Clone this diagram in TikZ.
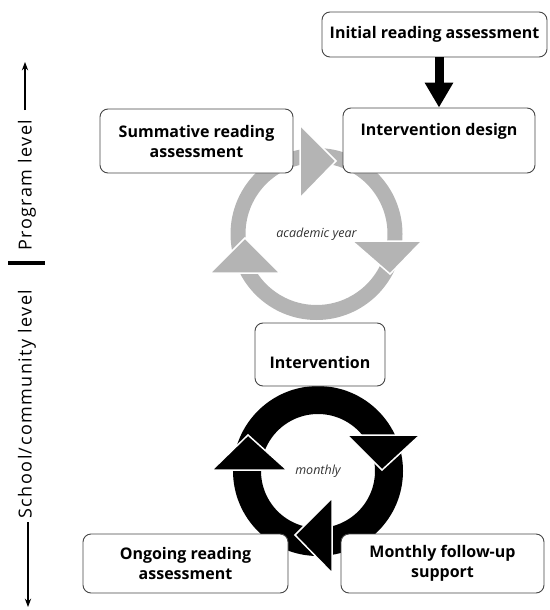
\documentclass[tikz,border=0pt]{standalone}
\usepackage{fontspec}
\setmainfont{Open Sans}
\usetikzlibrary{arrows.meta}
\definecolor{ringgray}{RGB}{180,180,180}
\definecolor{boxline}{RGB}{70,70,70}

\begin{document}
\begin{tikzpicture}[x=1pt, y=-1pt, >=Stealth,
  box/.style={draw=boxline, line width=0.9pt, rounded corners=8pt, fill=white,
    align=center, inner sep=2pt, font=\fontsize{16}{20}\selectfont\bfseries},
  head/.style={draw=white, line width=1.5pt, line join=miter},
  levelname/.style={rotate=90, font=\fontsize{18}{20}\selectfont\addfontfeature{LetterSpace=8}},
  cyclename/.style={font=\fontsize{12.5}{14}\selectfont\itshape, text=black!80}]
  \useasboundingbox (0,0) rectangle (549,610);
  % Centres of the two cycles
  \coordinate (Y) at (316.5,234);
  \coordinate (M) at (318,471);
  % Gray cycle (academic year)
  \draw[ringgray, line width=15pt] (Y) circle (78.5pt);
  \fill[ringgray, head] (300,125) -- (300,198) -- (336,161) -- cycle;
  \fill[ringgray, head] (352,241) -- (422,241) -- (390,274) -- cycle;
  \fill[ringgray, head] (210,273) -- (280,273) -- (245,238) -- cycle;
  \node[cyclename] (year) at (Y) {academic year};
  % Black cycle (monthly)
  \draw[black, line width=28pt] (M) circle (71pt);
  \fill[black, head] (212,470) -- (287,470) -- (248,435) -- cycle;
  \fill[black, head] (347,435) -- (420,435) -- (382,470) -- cycle;
  \fill[black, head] (332,498) -- (332,573) -- (295,535) -- cycle;
  \node[cyclename] (month) at (M) {monthly};
  % Boxes
  \node[box, minimum width=225pt, minimum height=45pt] (init) at (434.5,34.5) {Initial reading assessment};
  \node[box, minimum width=192pt, minimum height=65pt, text depth=22pt] (design) at (439,140.5) {Intervention design};
  \node[box, minimum width=193pt, minimum height=64pt] (summ) at (196.5,141) {Summative reading\\assessment};
  \node[box, minimum width=130pt, minimum height=63pt, text height=28pt] (interv) at (320,354.5) {Intervention};
  \node[box, minimum width=205pt, minimum height=59pt] (ongoing) at (185.5,563.5) {Ongoing reading\\assessment};
  \node[box, minimum width=203pt, minimum height=59pt] (followup) at (442.5,563.5) {Monthly follow-up\\support};
  % Thick arrow into the design
  \draw[line width=9pt, -{Triangle[length=25pt, width=27pt]}] (init.south -| design.north) -- (design.north);
  % Levels on the left
  \coordinate (up0) at (25,110);
  \coordinate (up1) at (25,62);
  \coordinate (down0) at (28,522);
  \coordinate (down1) at (28,607);
  \node[levelname] (prog) at (27,185) {Program level};
  \node[levelname] (school) at (27,404) {School/community level};
  \draw[->, line width=1.2pt] (up0) -- (up1);
  \draw[line width=4pt] (8,263) -- (45,263);
  \draw[->, line width=1.2pt] (down0) -- (down1);
\end{tikzpicture}
\end{document}
